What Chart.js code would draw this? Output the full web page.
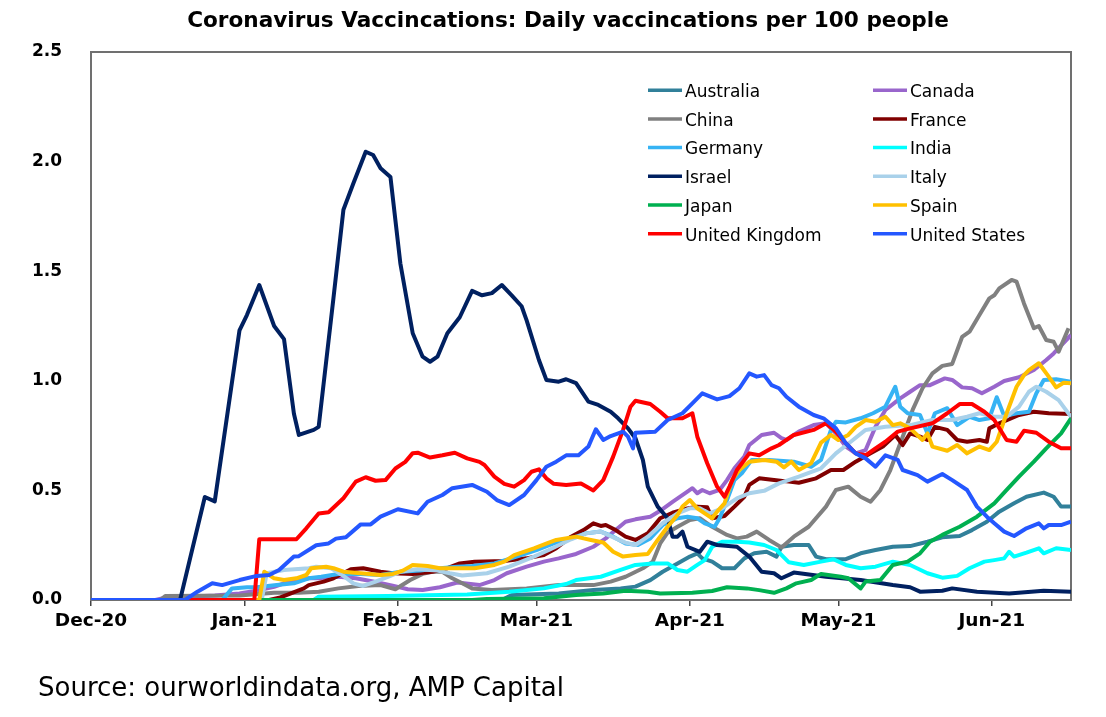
<!DOCTYPE html>
<html>
<head>
<meta charset="utf-8">
<title>Coronavirus Vaccincations</title>
<script src="https://cdn.jsdelivr.net/npm/chart.js@4.4.1/dist/chart.umd.min.js"></script>
<style>
  html, body { margin: 0; padding: 0; background: #fff; }
  #wrap { width: 1106px; height: 717px; }
</style>
</head>
<body>
<div id="wrap"><canvas id="chart" width="1106" height="717"></canvas></div>
<script>
// x values are days counted from 1 Dec 2020
const MONTH_TICKS = [0, 31, 62, 90, 121, 151, 182];
const MONTH_LABELS = ['Dec-20', 'Jan-21', 'Feb-21', 'Mar-21', 'Apr-21', 'May-21', 'Jun-21'];
const LAST_DAY = 198;

const COUNTRIES = [
  'Australia', 'Canada', 'China', 'France', 'Germany', 'India',
  'Israel', 'Italy', 'Japan', 'Spain', 'United Kingdom', 'United States'
];
const COLORS = [
  '#31809a', '#9966cc', '#808080', '#800000', '#36b3f4', '#00ffff',
  '#002060', '#a9d1ea', '#00b050', '#ffc000', '#ff0000', '#2457ff'
];

// [day, daily doses per 100 people]
const australia = [[0,0],[83,0],[85,0.023],[94.5,0.03],[101.5,0.046],[107,0.053],[110,0.061],[113,0.091],[115.5,0.129],[118.5,0.167],[121,0.198],[122.5,0.213],[123.5,0.19],[125.5,0.175],[127.5,0.145],[130,0.145],[132,0.19],[134,0.213],[136.5,0.22],[138.5,0.198],[139.5,0.243],[142,0.251],[145,0.251],[146.5,0.198],[148.5,0.186],[152.5,0.186],[155.5,0.213],[158.5,0.228],[162,0.243],[165.5,0.246],[169,0.266],[172,0.286],[175.5,0.292],[178,0.319],[181,0.357],[183.5,0.403],[186.5,0.441],[189,0.471],[192.5,0.49],[194.5,0.471],[196,0.426],[198,0.426]];
const canada = [[0,0],[13,0],[15,0.01],[25,0.02],[30,0.03],[34,0.045],[37,0.06],[40,0.084],[44,0.099],[46,0.099],[50,0.106],[53.5,0.099],[57,0.084],[60.5,0.068],[64,0.049],[67,0.046],[70.5,0.058],[74,0.08],[78.5,0.068],[81.5,0.091],[84,0.122],[88,0.152],[91.5,0.175],[94.5,0.19],[98,0.21],[101.5,0.243],[104,0.281],[106,0.319],[108,0.357],[110,0.368],[113,0.38],[115,0.407],[117.5,0.448],[120.5,0.494],[121.5,0.51],[122.5,0.487],[123.5,0.502],[125,0.487],[127,0.502],[128.5,0.547],[130,0.601],[132,0.654],[133,0.707],[135.5,0.753],[138,0.763],[139.5,0.738],[140.5,0.73],[143,0.768],[146,0.798],[148.5,0.806],[150.5,0.76],[152.5,0.7],[154.5,0.669],[156.5,0.684],[158.5,0.79],[160.5,0.867],[163.5,0.92],[165.5,0.95],[167.5,0.98],[169.5,0.98],[172.5,1.011],[174,1.004],[176,0.97],[178,0.966],[180,0.943],[182.5,0.973],[184.5,0.999],[187.5,1.016],[190.5,1.049],[193,1.095],[194.5,1.125],[198,1.209]];
const china = [[0,0],[14,0],[15,0.018],[30,0.02],[37,0.033],[42,0.033],[46,0.038],[50,0.053],[54,0.064],[58.5,0.068],[61.5,0.049],[64.5,0.091],[67,0.119],[69,0.129],[71,0.129],[73,0.099],[75,0.076],[77,0.053],[81,0.046],[88,0.053],[94.5,0.068],[101.5,0.068],[105,0.084],[108,0.106],[111.5,0.145],[113.5,0.175],[115,0.258],[116.5,0.307],[118.5,0.334],[121,0.365],[123,0.373],[125.5,0.334],[128.5,0.297],[130.5,0.281],[132.5,0.289],[134.5,0.312],[137,0.274],[139.5,0.24],[142,0.289],[145,0.334],[148.5,0.426],[150.5,0.502],[153,0.517],[155.5,0.471],[157.5,0.448],[159.5,0.502],[161.5,0.593],[163,0.684],[164,0.745],[166,0.867],[168,0.966],[170,1.034],[172,1.068],[174,1.077],[176,1.2],[177.5,1.224],[179.5,1.3],[181.5,1.376],[182.5,1.39],[183.5,1.422],[186,1.46],[187,1.452],[188.5,1.353],[190.5,1.24],[191.5,1.25],[193,1.186],[194.5,1.178],[195.5,1.133],[197.5,1.24]];
const france = [[0,0],[36,0],[38,0.01],[40,0.027],[43,0.053],[44,0.068],[47,0.084],[49,0.099],[52.5,0.14],[55,0.145],[58.5,0.129],[61,0.122],[65,0.119],[69,0.129],[72,0.145],[74.5,0.167],[77.5,0.175],[83.5,0.178],[88,0.19],[91.5,0.205],[94,0.236],[97,0.289],[99.5,0.319],[101.5,0.35],[103,0.338],[104,0.342],[106,0.319],[108,0.289],[110,0.274],[112.5,0.304],[115,0.373],[117.5,0.398],[120.5,0.418],[122.5,0.426],[124.5,0.423],[125.5,0.373],[128,0.383],[130,0.426],[132,0.471],[133,0.525],[135,0.555],[138,0.547],[141,0.54],[143,0.535],[146.5,0.555],[149.5,0.593],[152,0.593],[154.5,0.631],[157.5,0.669],[160,0.7],[162.5,0.753],[164,0.707],[165.5,0.76],[167.5,0.745],[169,0.73],[170.5,0.79],[173,0.776],[175,0.73],[177,0.722],[179.5,0.73],[181,0.722],[181.5,0.783],[183.5,0.806],[187.5,0.844],[190.5,0.859],[193.5,0.852],[198,0.849]];
const germany = [[0,0],[26.5,0],[28.5,0.053],[31.5,0.058],[33.5,0.058],[37.5,0.068],[41,0.076],[44,0.099],[46.5,0.106],[50,0.119],[54.5,0.119],[58.5,0.114],[62.5,0.129],[66.5,0.134],[70.5,0.145],[74,0.152],[77,0.155],[81.5,0.167],[86,0.198],[90,0.228],[93.5,0.258],[97,0.281],[100,0.304],[103,0.312],[105.5,0.289],[108,0.258],[110.5,0.251],[113,0.281],[115.5,0.342],[118.5,0.373],[120.5,0.38],[122.5,0.373],[124,0.35],[126,0.334],[127,0.373],[128.5,0.456],[130,0.547],[131.5,0.578],[133.5,0.639],[137,0.639],[142,0.631],[145.5,0.608],[147.5,0.639],[149.5,0.776],[150.5,0.813],[152.5,0.81],[155.5,0.829],[158,0.852],[160.5,0.882],[162.5,0.973],[163.5,0.882],[165,0.852],[167.5,0.844],[169,0.76],[170.5,0.852],[173,0.875],[175,0.798],[177.5,0.836],[179.5,0.821],[181.5,0.829],[183,0.925],[184.5,0.839],[187,0.852],[189.5,0.859],[191,0.943],[192.5,1.004],[195,1.007],[198,0.996]];
const india = [[0,0],[45,0],[46,0.015],[60,0.018],[76,0.025],[84.5,0.038],[91.5,0.053],[96,0.073],[98,0.091],[103,0.106],[107,0.137],[110,0.16],[113.5,0.167],[116.5,0.167],[118.5,0.137],[120.5,0.129],[122.5,0.16],[124,0.182],[125.5,0.243],[127.5,0.266],[130.5,0.266],[133,0.262],[136,0.251],[138.5,0.228],[141,0.172],[144,0.16],[147.5,0.175],[150,0.186],[152.5,0.16],[155.5,0.145],[158.5,0.152],[162,0.175],[165.5,0.16],[169,0.122],[172,0.102],[175,0.11],[177.5,0.145],[180.5,0.175],[182.5,0.182],[184.5,0.19],[185.5,0.22],[186.5,0.198],[189,0.216],[191.5,0.236],[192.5,0.213],[195,0.236],[198,0.228]];
const israel = [[0,0],[18,0],[23,0.47],[25,0.45],[30,1.23],[31.5,1.3],[34,1.437],[37,1.25],[39,1.19],[41,0.85],[42,0.753],[45,0.776],[46,0.79],[49,1.38],[51,1.78],[53,1.9],[55.5,2.045],[57,2.03],[58.5,1.97],[60.5,1.93],[62.5,1.536],[65,1.217],[67,1.11],[68.5,1.087],[70,1.11],[72,1.217],[74.5,1.29],[77,1.41],[79,1.39],[81,1.4],[83,1.437],[85,1.39],[87,1.34],[88,1.277],[90.5,1.095],[92,1.004],[94.5,0.996],[96,1.007],[98,0.989],[100.5,0.905],[102.5,0.89],[105,0.859],[106.5,0.829],[108.5,0.783],[110,0.738],[111.5,0.639],[112.5,0.517],[114.5,0.426],[116.5,0.373],[117.5,0.289],[118.5,0.289],[119.5,0.312],[120.5,0.243],[123,0.22],[124.5,0.266],[126.5,0.251],[130.5,0.243],[133,0.198],[135.5,0.129],[138,0.122],[139.5,0.099],[142,0.125],[148.5,0.106],[155.5,0.091],[162,0.068],[165.5,0.058],[167.5,0.038],[172,0.042],[174,0.053],[179,0.038],[185.5,0.03],[192.5,0.042],[198,0.038]];
const italy = [[0,0],[34.5,0],[35.5,0.122],[39,0.137],[44,0.145],[45.5,0.152],[48.5,0.145],[51,0.11],[53,0.076],[55,0.064],[57.5,0.084],[60.5,0.11],[62.5,0.129],[66,0.14],[70,0.134],[72.5,0.122],[75,0.112],[80,0.122],[84.5,0.152],[89.5,0.198],[92.5,0.228],[97,0.277],[100,0.304],[103,0.312],[106,0.281],[108,0.262],[110,0.251],[112.5,0.289],[115.5,0.35],[118.5,0.395],[121,0.418],[123,0.418],[125,0.395],[127.5,0.418],[130.5,0.464],[133,0.487],[136,0.498],[139,0.532],[143,0.563],[147.5,0.601],[150.5,0.669],[153.5,0.722],[156.5,0.776],[160.5,0.79],[165.5,0.798],[170,0.821],[174,0.821],[177,0.836],[179.5,0.852],[182.5,0.836],[185,0.836],[187.5,0.882],[189.5,0.95],[191,0.973],[193,0.95],[195.5,0.912],[198,0.836]];
const japan = [[0,0],[77,0],[80,0.005],[91.5,0.008],[98,0.023],[103.5,0.03],[108,0.042],[112.5,0.038],[115,0.03],[121.5,0.033],[125.5,0.041],[128.5,0.058],[132.5,0.053],[135,0.045],[138,0.033],[140.5,0.053],[142.5,0.076],[145.5,0.091],[147.5,0.119],[151.5,0.106],[153,0.099],[155.5,0.053],[156.5,0.084],[159.5,0.091],[162,0.16],[165,0.175],[167.5,0.213],[169.5,0.266],[172,0.297],[175.5,0.334],[179,0.38],[182.5,0.441],[185,0.502],[187.5,0.563],[190.5,0.631],[193,0.692],[196,0.76],[198,0.829]];
const spain = [[0,0],[34,0],[35,0.129],[37,0.099],[39,0.091],[41.5,0.099],[43.5,0.114],[44.5,0.145],[47.5,0.152],[49,0.145],[51,0.129],[54.5,0.122],[58.5,0.114],[61,0.119],[63,0.134],[65,0.16],[68,0.155],[70.5,0.145],[74,0.145],[77.5,0.145],[81.5,0.16],[83.5,0.175],[85.5,0.205],[89.5,0.236],[92.5,0.262],[94,0.274],[98,0.289],[99.5,0.281],[101,0.274],[103.5,0.262],[105.5,0.22],[107.5,0.198],[110,0.205],[112.5,0.21],[114.5,0.274],[116.5,0.334],[118.5,0.388],[119.5,0.426],[121,0.456],[122.5,0.418],[124,0.395],[125.5,0.373],[126.5,0.403],[128,0.441],[129.5,0.547],[131,0.593],[133,0.631],[136,0.639],[138.5,0.631],[140,0.605],[141.5,0.631],[143,0.593],[145.5,0.624],[147.5,0.718],[149.5,0.753],[151,0.73],[153,0.753],[154.5,0.79],[156.5,0.821],[158.5,0.813],[160.5,0.836],[162,0.798],[163.5,0.806],[165.5,0.783],[168,0.73],[169,0.76],[170,0.7],[173,0.681],[175,0.707],[177,0.669],[179.5,0.7],[181.5,0.684],[183,0.722],[185,0.852],[187,0.973],[188.5,1.026],[189.5,1.049],[191.5,1.08],[193.5,1.019],[195,0.97],[196.5,0.991],[198,0.989]];
const unitedKingdom = [[0,0],[33,0],[34,0.277],[41.5,0.277],[43.5,0.327],[46,0.395],[48,0.4],[51,0.464],[53.5,0.54],[55.5,0.56],[57.5,0.544],[59.5,0.547],[61.5,0.6],[63.5,0.63],[65,0.67],[66,0.672],[68.5,0.65],[71,0.66],[73.5,0.672],[76,0.646],[78.5,0.63],[79.5,0.616],[81.5,0.563],[83.5,0.53],[85.5,0.517],[87.5,0.547],[89,0.585],[90.5,0.596],[92,0.555],[93.5,0.53],[96,0.525],[99,0.532],[101.5,0.5],[103.5,0.547],[105.5,0.654],[107.5,0.776],[109,0.882],[110,0.909],[113,0.894],[115,0.859],[116.5,0.829],[119.5,0.829],[121.5,0.852],[122.5,0.745],[124.5,0.624],[126.5,0.517],[128,0.471],[129,0.517],[130.5,0.593],[133,0.669],[135,0.66],[137.5,0.692],[139,0.707],[142,0.753],[146,0.776],[148.5,0.806],[150.5,0.768],[152.5,0.715],[154.5,0.669],[156.5,0.66],[158.5,0.692],[160.5,0.722],[163,0.768],[165.5,0.783],[170,0.806],[173,0.852],[175.5,0.894],[178,0.894],[180.5,0.859],[182.5,0.821],[185,0.73],[187,0.722],[188.5,0.772],[191,0.763],[193.5,0.722],[196,0.692],[198,0.692]];
const unitedStates = [[0,0],[19,0],[21.5,0.038],[24.5,0.076],[26.5,0.068],[30,0.091],[33.5,0.11],[36,0.114],[38,0.137],[41,0.198],[42,0.2],[45.5,0.25],[48,0.258],[49.5,0.28],[51.5,0.286],[54.5,0.345],[56.5,0.345],[58.5,0.38],[62,0.414],[66,0.395],[68,0.448],[71,0.479],[73,0.51],[77,0.525],[80,0.494],[82,0.456],[84.5,0.433],[87.5,0.479],[90,0.547],[92,0.608],[94,0.631],[96,0.66],[98.5,0.66],[100.5,0.7],[102,0.779],[103.5,0.73],[105,0.748],[107.5,0.768],[108.5,0.745],[109.5,0.692],[110,0.763],[114,0.768],[116.5,0.821],[119.5,0.852],[121.5,0.897],[123.5,0.943],[126.5,0.915],[129,0.93],[131,0.966],[133,1.034],[134.5,1.019],[136,1.026],[137.5,0.98],[139,0.966],[140.5,0.927],[143,0.882],[146,0.844],[148,0.829],[150.5,0.783],[152.5,0.715],[154.5,0.669],[156.5,0.646],[158.5,0.608],[160.5,0.66],[163,0.639],[164,0.593],[167,0.57],[169,0.54],[172,0.575],[174,0.547],[177,0.502],[179,0.426],[181,0.38],[182.5,0.35],[184.5,0.312],[186.5,0.292],[189,0.327],[191.5,0.35],[192.5,0.327],[193.5,0.342],[196,0.342],[198,0.357]];

const SERIES = [australia, canada, china, france, germany, india,
  israel, italy, japan, spain, unitedKingdom, unitedStates];

const TITLE = 'Coronavirus Vaccincations: Daily vaccincations per 100 people';
const SOURCE = 'Source: ourworldindata.org, AMP Capital';
const FONT = '"DejaVu Sans", "Liberation Sans", Arial, sans-serif';

// title, boxed plot frame, two-column legend and source line
const decorations = {
  id: 'decorations',
  beforeDatasetsDraw(chart) {
    const { ctx, chartArea: a } = chart;
    ctx.save();
    ctx.strokeStyle = '#707070';
    ctx.lineWidth = 2;
    ctx.strokeRect(a.left, a.top, a.right - a.left, a.bottom - a.top);
    ctx.restore();
  },
  afterDraw(chart) {
    const { ctx } = chart;
    ctx.save();
    ctx.fillStyle = '#000';
    ctx.textBaseline = 'alphabetic';

    ctx.font = 'bold 21.6px ' + FONT;
    ctx.textAlign = 'center';
    ctx.fillText(TITLE, 568, 26.5);

    ctx.font = '17px ' + FONT;
    ctx.textAlign = 'left';
    COUNTRIES.forEach((name, i) => {
      const col = i % 2, row = Math.floor(i / 2);
      const x = col === 0 ? 648 : 873;
      const base = 97 + row * 28.7;
      ctx.strokeStyle = COLORS[i];
      ctx.lineWidth = 3.5;
      ctx.beginPath();
      ctx.moveTo(x, base - 6.8);
      ctx.lineTo(x + 34, base - 6.8);
      ctx.stroke();
      ctx.fillText(name, x + 37, base);
    });

    ctx.font = '26px ' + FONT;
    ctx.fillText(SOURCE, 38, 696);
    ctx.restore();
  }
};

new Chart(document.getElementById('chart'), {
  type: 'line',
  data: {
    datasets: COUNTRIES.map((name, i) => ({
      label: name,
      data: SERIES[i].map(p => ({ x: p[0], y: p[1] })),
      borderColor: COLORS[i],
      backgroundColor: COLORS[i],
      borderWidth: 4,
      borderJoinStyle: 'round',
      pointRadius: 0,
      tension: 0,
      fill: false,
      order: COUNTRIES.length - 1 - i
    }))
  },
  options: {
    responsive: false,
    animation: false,
    layout: { padding: { top: 52, right: 35, left: 0, bottom: 0 } },
    scales: {
      x: {
        type: 'linear',
        min: 0,
        max: LAST_DAY,
        afterBuildTicks: s => { s.ticks = MONTH_TICKS.map(v => ({ value: v })); },
        afterFit: s => { s.height = 117; },
        border: { display: false },
        grid: { drawOnChartArea: false, drawTicks: true, tickLength: 6, color: '#444', lineWidth: 1.5 },
        ticks: {
          autoSkip: false,
          maxRotation: 0,
          padding: 4,
          color: '#000',
          font: { family: FONT, size: 18.5, weight: 'bold' },
          callback: v => MONTH_LABELS[MONTH_TICKS.indexOf(v)]
        }
      },
      y: {
        min: 0,
        max: 2.5,
        afterFit: s => { s.width = 91; },
        border: { display: false },
        grid: { display: false },
        ticks: {
          stepSize: 0.5,
          padding: 21,
          color: '#000',
          font: { family: FONT, size: 17, weight: 'bold' },
          callback: v => v.toFixed(1)
        }
      }
    },
    plugins: {
      legend: { display: false },
      tooltip: { enabled: false }
    }
  },
  plugins: [decorations]
});
</script>
</body>
</html>
